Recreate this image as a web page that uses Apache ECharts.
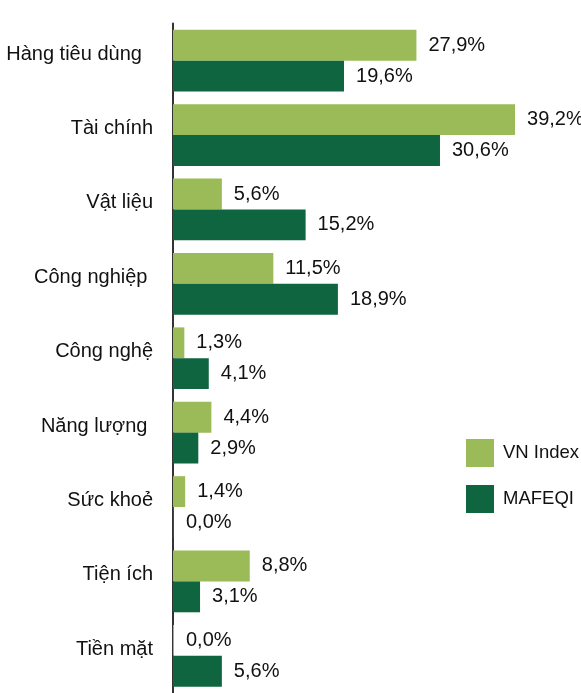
<!DOCTYPE html>
<html>
<head>
<meta charset="utf-8">
<script src="https://cdn.jsdelivr.net/npm/echarts@6/dist/echarts.min.js"></script>
<style>
  html, body { margin: 0; padding: 0; background: #fff; }
  #chart { width: 581px; height: 693px; }
</style>
</head>
<body>
<div id="chart"></div>
<script>
// trailing spaces kept as in the original labels
var categories = ['Hàng tiêu dùng  ', 'Tài chính', 'Vật liệu', 'Công nghiệp ', 'Công nghệ',
    'Năng lượng ', 'Sức khoẻ', 'Tiện ích', 'Tiền mặt'];
var vnIndex = [27.9, 39.2, 5.6, 11.5, 1.3, 4.4, 1.4, 8.8, 0.0];
var mafeqi = [19.6, 30.6, 15.2, 18.9, 4.1, 2.9, 0.0, 3.1, 5.6];
var seriesNames = ['VN Index', 'MAFEQI'];

var FONT = '"Liberation Sans", Arial, sans-serif';

function fmt(p) {
    return p.value.toFixed(1).replace('.', ',') + '%';
}

var myChart = echarts.init(document.getElementById('chart'), null, {renderer: 'canvas'});
var option = {
    animation: false,
    textStyle: {fontFamily: FONT},
    legend: {
        orient: 'vertical',
        left: 461,
        top: 434,
        itemWidth: 28,
        itemHeight: 28,
        itemGap: 18,
        icon: 'rect',
        textStyle: {fontFamily: FONT, fontSize: 18.5, color: '#111', padding: [0, 0, 0, 4]},
        data: seriesNames
    },
    grid: {
        left: 173,
        right: 59,
        top: 23.5,
        bottom: -16,
        containLabel: false
    },
    xAxis: {
        type: 'value',
        min: 0,
        max: 40,
        show: false
    },
    yAxis: {
        type: 'category',
        inverse: true,
        data: categories,
        axisTick: {show: false},
        axisLine: {show: true, lineStyle: {color: '#333', width: 2}},
        axisLabel: {
            fontFamily: FONT,
            fontSize: 20,
            color: '#111',
            margin: 20,
            verticalAlign: 'bottom',
            lineHeight: 13
        }
    },
    series: [{
        name: seriesNames[0],
        type: 'bar',
        data: vnIndex,
        barGap: '0%',
        barCategoryGap: '17%',
        barMinHeight: 1,
        itemStyle: {color: '#9bbb59'},
        label: {
            show: true,
            position: 'right',
            distance: 12,
            formatter: fmt,
            fontFamily: FONT,
            fontSize: 20,
            color: '#111'
        }
    }, {
        name: seriesNames[1],
        type: 'bar',
        data: mafeqi,
        barGap: '0%',
        barCategoryGap: '17%',
        barMinHeight: 1,
        itemStyle: {color: '#0e653f'},
        label: {
            show: true,
            position: 'right',
            distance: 12,
            formatter: fmt,
            fontFamily: FONT,
            fontSize: 20,
            color: '#111'
        }
    }]
};
myChart.setOption(option, true);
</script>
</body>
</html>
